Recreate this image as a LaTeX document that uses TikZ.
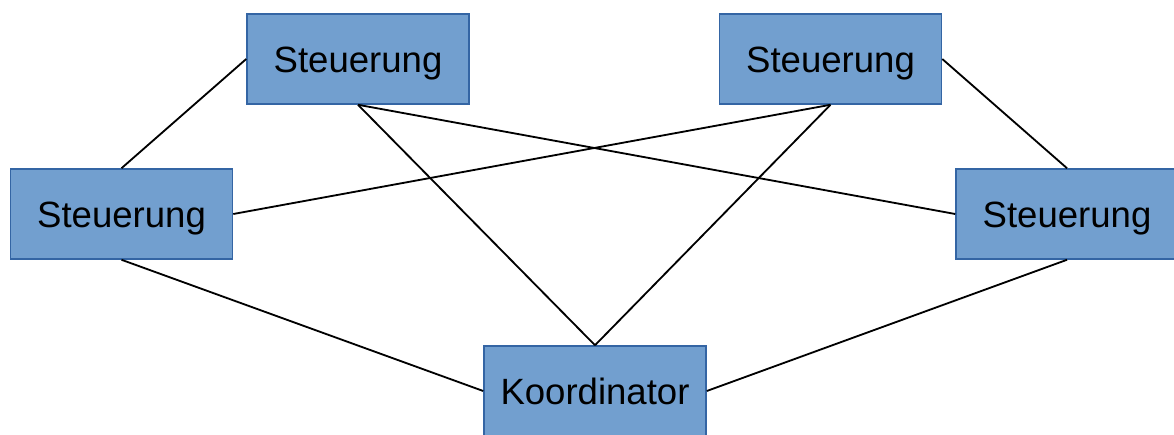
\documentclass[tikz,border=0pt]{standalone}
\usepackage{fontspec}
\setmainfont{Liberation Sans}
\usepackage{tikz}
\definecolor{boxfill}{HTML}{729FCF}
\definecolor{boxline}{HTML}{3465A4}
\tikzset{box/.style={draw=boxline,line width=1.1pt,fill=boxfill,minimum width={222*0.025cm},minimum height={90*0.025cm},inner sep=0pt,text height=18.5pt,text depth=0pt,font=\fontsize{26}{30}\selectfont}}

\begin{document}
\begin{tikzpicture}[x=0.025cm,y=-0.025cm,line width=1.3pt]
  \useasboundingbox (0,0) rectangle (1174,434);
  \begin{scope}
  \clip (0,0) rectangle (1174,434);
  \node[box] (s1l) at (358,59) {Steuerung};
  \node[box] (s1r) at (830.5,59) {Steuerung};
  \node[box] (s2l) at (121.5,214) {Steuerung};
  \node[box] (s2r) at (1067,214) {Steuerung};
  \node[box] (k) at (595,391) {Koordinator};
  \draw (s1l.west) to (s2l.north);
  \draw (s1l.south) to (s2r.west);
  \draw (s1l.south) to (k.north);
  \draw (s1r.south) to (s2l.east);
  \draw (s1r.south) to (k.north);
  \draw (s1r.east) to (s2r.north);
  \draw (s2l.south) to (k.west);
  \draw (s2r.south) to (k.east);
  \end{scope}
\end{tikzpicture}
\end{document}
